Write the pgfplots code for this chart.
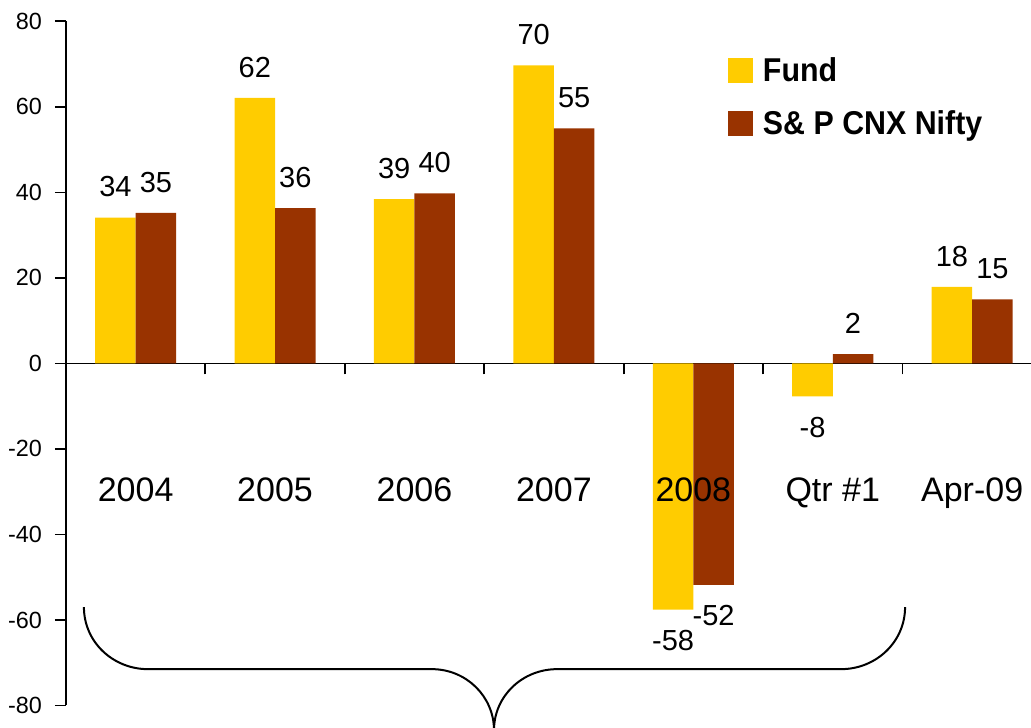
\documentclass[border=0pt]{standalone}
\usepackage{fontspec}
\setmainfont{Liberation Sans}
\newfontfamily\legfont[FakeStretch=0.92]{Liberation Sans}
\usepackage{pgfplots}
\pgfplotsset{compat=1.18}
\definecolor{fund}{HTML}{FFCC00}
\definecolor{nifty}{HTML}{993300}
\begin{document}
\begin{tikzpicture}
\begin{axis}[
  scale only axis, width=482.45pt, height=342pt,
  xmin=-0.5, xmax=6.422, ymin=-80, ymax=80,
  axis x line*=middle, axis y line*=left,
  clip=false,
  ybar=0pt, bar width=20.25pt,
  xtick={-0.5,0.5,1.5,2.5,3.5,4.5,5.5}, xticklabels={},
  ytick={-80,-60,-40,-20,0,20,40,60,80},
  tick align=outside, major tick length=5.5pt,
  tick style={line width=0.9pt, black},
  axis line style={line width=0.9pt, black},
  /pgf/number format/assume math mode=true,
  yticklabel style={font=\fontsize{11.7}{14}\selectfont, xshift=-3pt},
  nodes near coords, point meta=explicit symbolic,
  visualization depends on=rawy \as \rawy,
  every node near coord/.append style={font=\fontsize{14.5}{17}\selectfont,
    inner xsep=0pt, inner ysep=10pt, text=black,
    anchor=\ifdim\rawy pt<0pt north\else south\fi},
  legend style={at={(0.686,0.948)}, anchor=north west, draw=none, fill=none,
    inner sep=0pt, outer sep=0pt, row sep=13pt, column sep=5pt,
    font=\legfont\bfseries\fontsize{16.5}{19}\selectfont,
    nodes={inner sep=0pt, text height=12.5pt, text depth=0pt}},
  legend cell align=left,
  legend image code/.code={\fill[#1] (0pt,-7pt) rectangle (12.5pt,5.5pt);},
]
\addplot[fill=fund, draw=none] coordinates {
  (0,34.1)[34] (1,62.1)[62] (2,38.4)[39] (3,69.7)[70] (4,-57.6)[-58] (5,-7.7)[-8] (6,17.9)[18]};
\addplot[fill=nifty, draw=none] coordinates {
  (0,35.2)[35] (1,36.3)[36] (2,39.8)[40] (3,55.0)[55] (4,-51.8)[-52] (5,2.2)[2] (6,15.0)[15]};
\legend{Fund, S\& P CNX Nifty}
\node[anchor=base, font=\fontsize{17}{20}\selectfont] at (axis cs:0,-32.4) {2004};
\node[anchor=base, font=\fontsize{17}{20}\selectfont] at (axis cs:1,-32.4) {2005};
\node[anchor=base, font=\fontsize{17}{20}\selectfont] at (axis cs:2,-32.4) {2006};
\node[anchor=base, font=\fontsize{17}{20}\selectfont] at (axis cs:3,-32.4) {2007};
\node[anchor=base, font=\fontsize{17}{20}\selectfont] at (axis cs:4,-32.4) {2008};
\node[anchor=base, font=\fontsize{17}{20}\selectfont] at (axis cs:5,-32.4) {Qtr \#1};
\node[anchor=base, font=\fontsize{17}{20}\selectfont] at (axis cs:6,-32.4) {Apr-09};
\draw[line width=1pt] (axis cs:-0.371,-57.0) to[out=-90,in=180] ++(32pt,-31pt)
  -- ++(142pt,0pt) to[out=0,in=90] ++(31pt,-30.5pt)
  to[out=90,in=180] ++(31.5pt,30.5pt) -- ++(142pt,0pt)
  to[out=0,in=-90] ++(32pt,31pt);
\coordinate (BL) at (axis cs:-0.973,-85.05);
\coordinate (TR) at (axis cs:6.422,85.0);
\end{axis}
\pgfresetboundingbox
\path[use as bounding box] (BL) rectangle (TR);
\end{tikzpicture}
\end{document}
